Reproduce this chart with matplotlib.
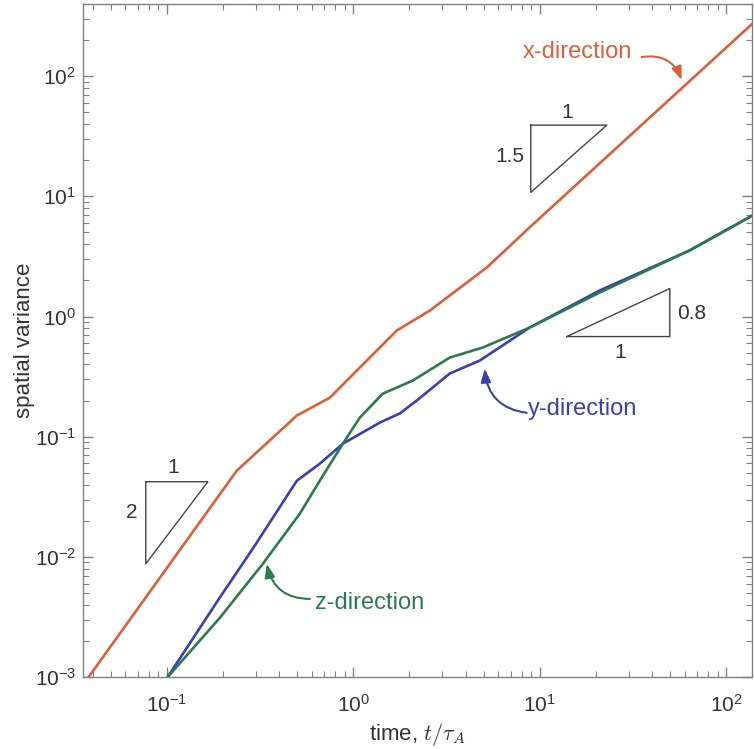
import matplotlib
matplotlib.use("Agg")
import matplotlib.pyplot as plt
from matplotlib.ticker import LogLocator

plt.rcParams['font.family'] = ['Liberation Sans', 'DejaVu Sans']
plt.rcParams['mathtext.fontset'] = 'cm'

# ---- data ----
t_x = [0.0377, 0.237, 0.498, 0.748, 0.923, 1.337, 1.71, 2.57, 5.20, 8.83, 138.7]
var_x = [0.00098, 0.0521, 0.150, 0.211, 0.293, 0.521, 0.764, 1.12, 2.56, 5.52, 275.0]

t_y = [0.101, 0.192, 0.289, 0.498, 0.661, 0.879, 1.387, 1.775, 2.19, 3.289, 4.764, 8.83, 20.99, 63.7, 138.7]
var_y = [0.001, 0.00457, 0.0117, 0.0430, 0.0596, 0.0875, 0.131, 0.156, 0.200, 0.335, 0.430, 0.809, 1.648, 3.548, 6.95]

t_z = [0.101, 0.192, 0.327, 0.516, 0.661, 0.879, 1.084, 1.439, 2.084, 3.289, 4.943, 8.83, 20.99, 63.7, 138.7]
var_z = [0.001, 0.0031, 0.00875, 0.0228, 0.0430, 0.0875, 0.144, 0.228, 0.293, 0.455, 0.552, 0.809, 1.585, 3.548, 6.95]

# slope triangles (vertices)
tri1_t = [0.0771, 0.166, 0.0771, 0.0771]
tri1_v = [0.0422, 0.0422, 0.00875, 0.0422]
tri2_t = [8.95, 22.9, 8.95, 8.95]
tri2_v = [39.1, 39.1, 10.8, 39.1]
tri3_t = [13.96, 49.8, 49.8, 13.96]
tri3_v = [0.681, 0.681, 1.71, 0.681]

c_x = '#d8603c'
c_y = '#3a3fae'
c_z = '#2c7a4c'
grey = '#808080'

fig = plt.figure(figsize=(7.54, 7.49), dpi=100)
ax = fig.add_axes([0.110, 0.096, 0.887, 0.899])
ax.set_xscale('log')
ax.set_yscale('log')
ax.set_xlim(0.0355, 137)
ax.set_ylim(1e-3, 400)

ax.plot(t_x, var_x, color=c_x, lw=1.9, solid_joinstyle='round')
ax.plot(t_y, var_y, color=c_y, lw=1.9, solid_joinstyle='round')
ax.plot(t_z, var_z, color=c_z, lw=1.9, solid_joinstyle='round')

for tt, vv in [(tri1_t, tri1_v), (tri2_t, tri2_v), (tri3_t, tri3_v)]:
    ax.plot(tt, vv, color='#444444', lw=1.0)

tfs = 15
ax.text(0.108, 0.0552, '1', ha='center', va='center', fontsize=tfs, color='#333333')
ax.text(0.0649, 0.0233, '2', ha='center', va='center', fontsize=tfs, color='#333333')
ax.text(13.96, 50.1, '1', ha='center', va='center', fontsize=tfs, color='#333333')
ax.text(6.90, 21.5, '1.5', ha='center', va='center', fontsize=tfs, color='#333333')
ax.text(65.3, 1.06, '0.8', ha='center', va='center', fontsize=tfs, color='#333333')
ax.text(26.9, 0.501, '1', ha='center', va='center', fontsize=tfs, color='#333333')

lfs = 17
ax.text(16.0, 158, 'x-direction', ha='center', va='center', fontsize=lfs, color=c_x)
ax.text(17.0, 0.171, 'y-direction', ha='center', va='center', fontsize=lfs, color=c_y)
ax.text(1.225, 0.00414, 'z-direction', ha='center', va='center', fontsize=lfs, color=c_z)

def arrow(tail, head, col, rad):
    ax.annotate('', xy=head, xytext=tail,
                arrowprops=dict(arrowstyle='-|>,head_length=0.8,head_width=0.3',
                                color=col, lw=1.5,
                                connectionstyle='arc3,rad=%s' % rad,
                                shrinkA=0, shrinkB=0))

arrow((35.2, 144), (57.7, 92.6), c_x, -0.4)
arrow((8.51, 0.158), (5.07, 0.369), c_y, -0.4)
arrow((0.585, 0.00447), (0.344, 0.00875), c_z, -0.4)

ax.xaxis.set_major_locator(LogLocator(base=10, numticks=20))
ax.yaxis.set_major_locator(LogLocator(base=10, numticks=20))
ax.xaxis.set_minor_locator(LogLocator(base=10, subs=range(2, 10), numticks=50))
ax.yaxis.set_minor_locator(LogLocator(base=10, subs=range(2, 10), numticks=50))

for s in ax.spines.values():
    s.set_color(grey)
    s.set_linewidth(1.0)
ax.tick_params(which='both', direction='in', top=True, right=True, color=grey,
               labelcolor='#333333', labelsize=15)
ax.tick_params(which='major', length=7, width=1.0)
ax.tick_params(which='minor', length=4, width=0.8)
ax.tick_params(axis='x', pad=12)
ax.tick_params(axis='y', pad=5)

ax.set_xlabel(r'time, $t/\tau_A$', fontsize=16, color='#333333', labelpad=4)
ax.set_ylabel('spatial variance', fontsize=16, color='#333333', labelpad=0)

fig.savefig('out.png', dpi=100)
